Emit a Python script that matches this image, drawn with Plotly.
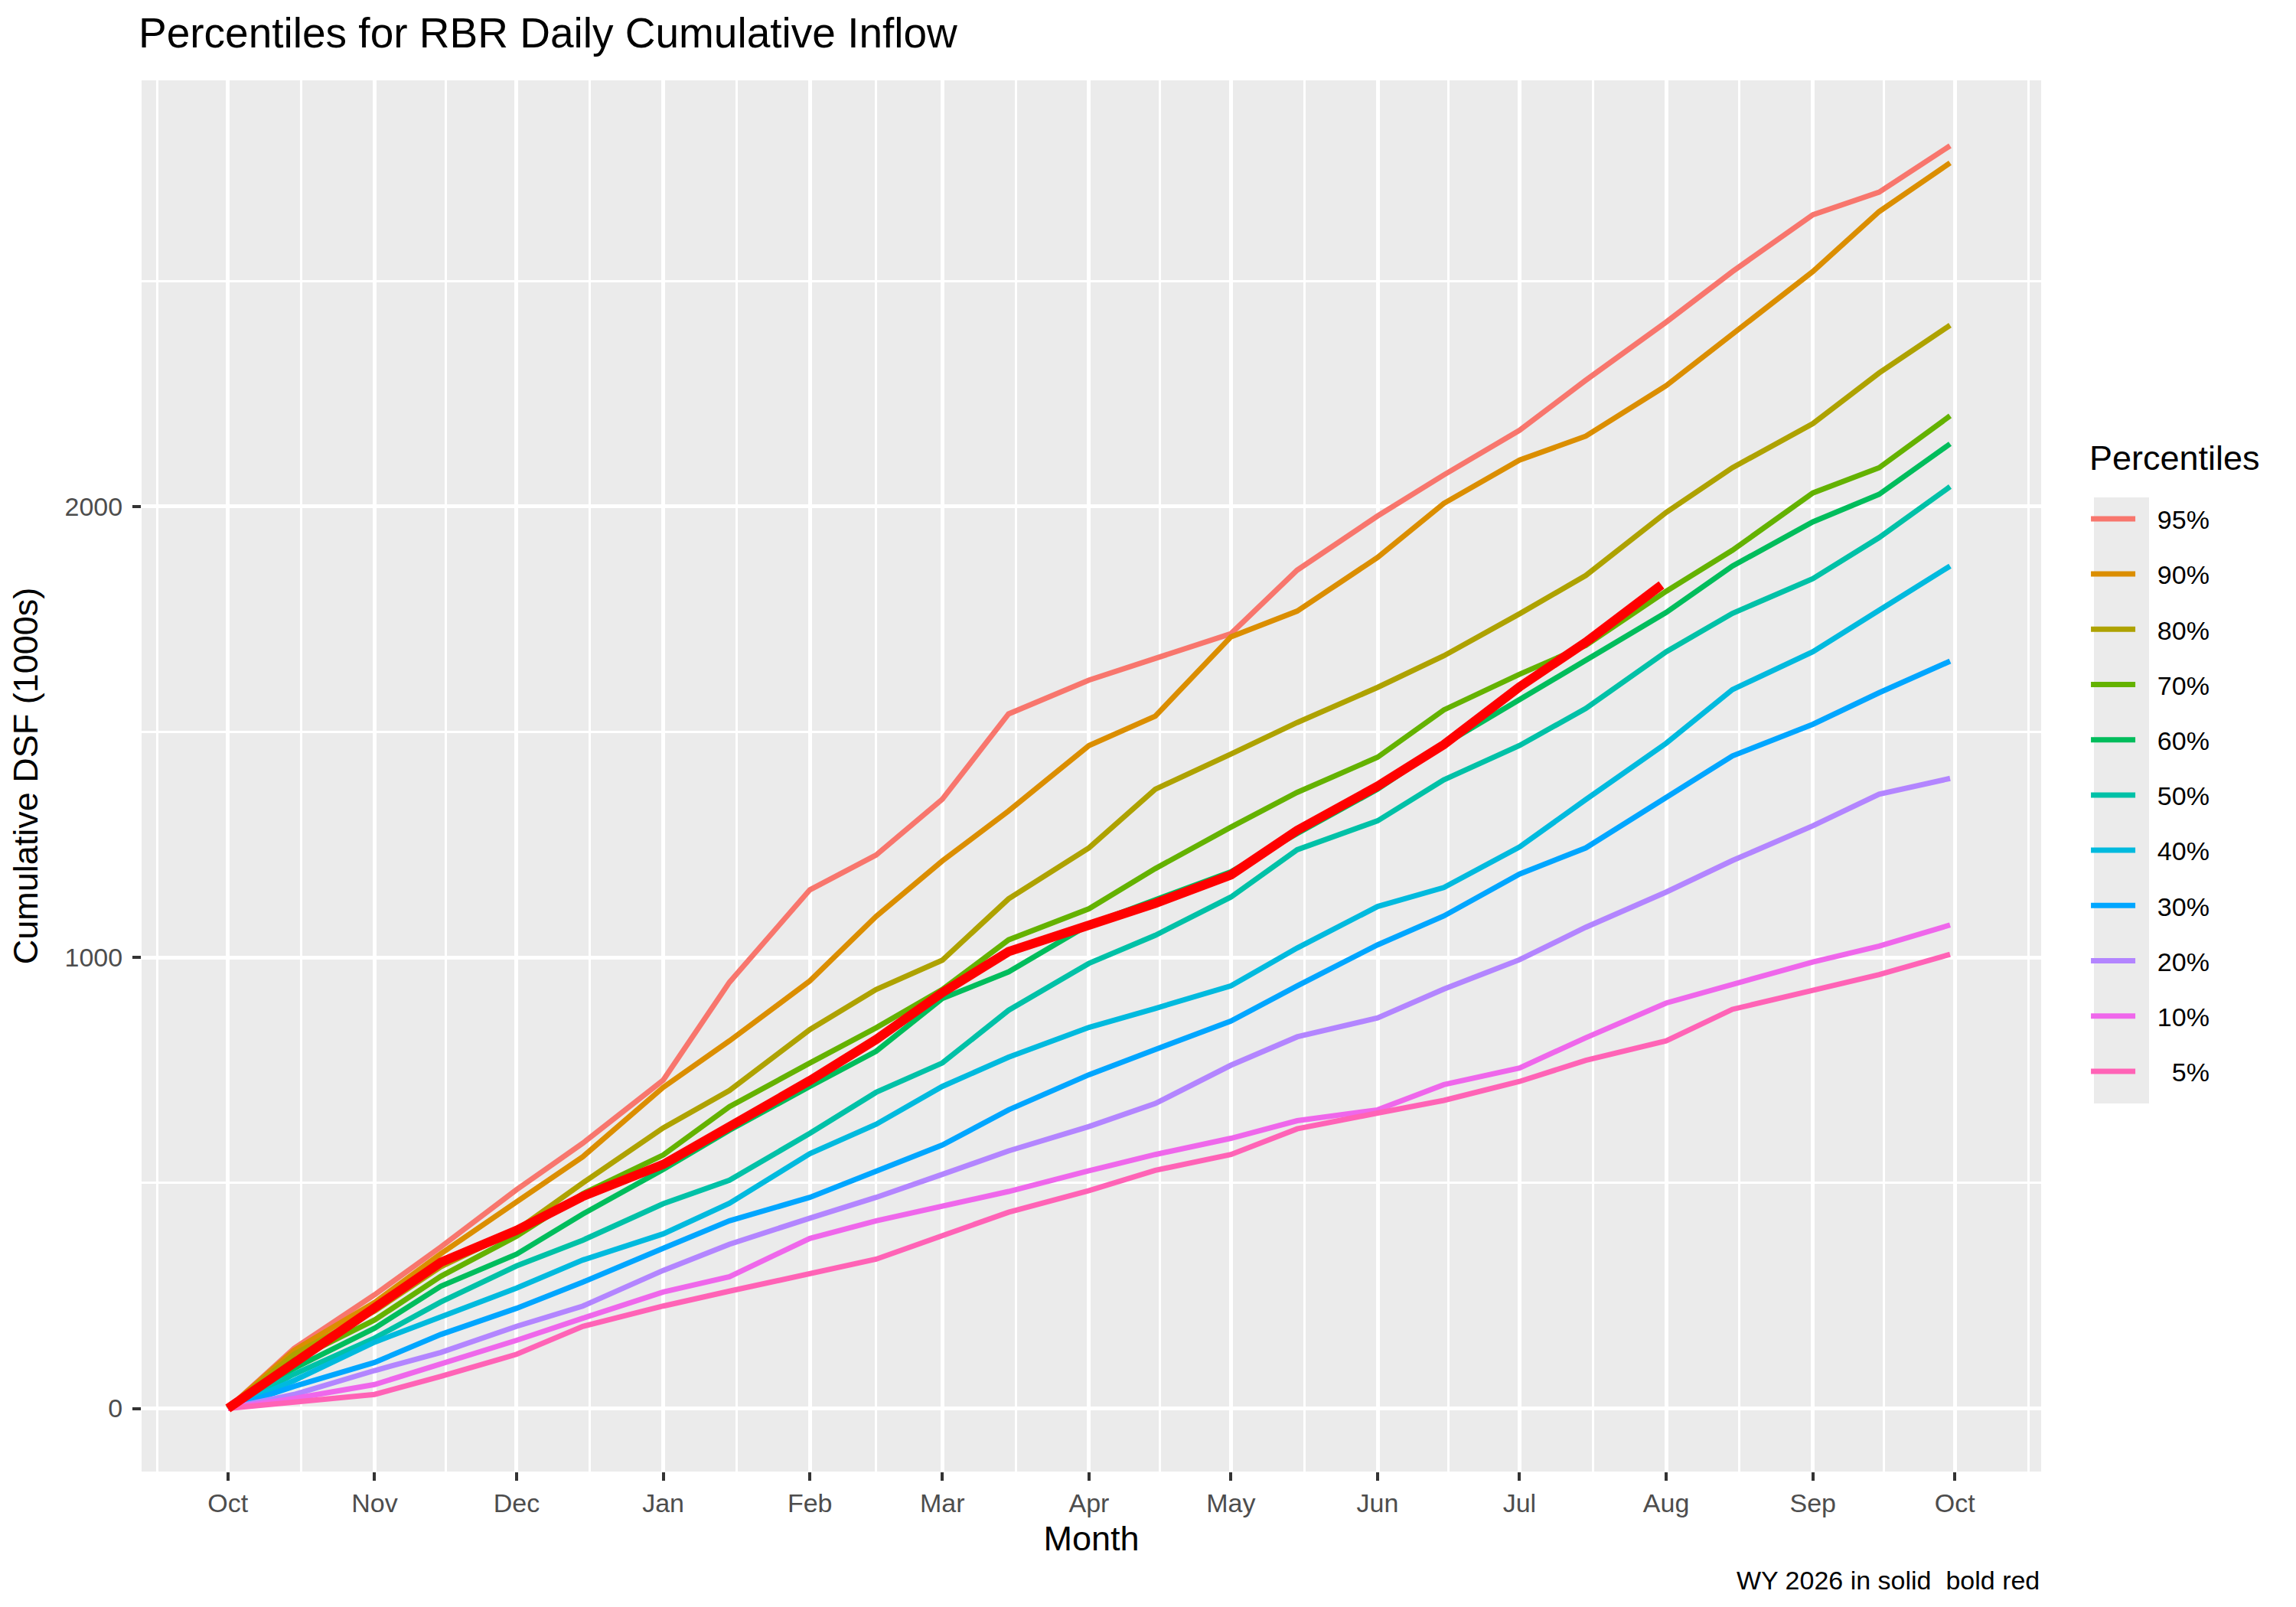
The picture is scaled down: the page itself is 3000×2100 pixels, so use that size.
import pandas as pd
import plotly.graph_objects as go

# semi-monthly readings, WY Oct 1 -> Sep 30
dates = ["2025-10-01", "2025-10-15", "2025-11-01", "2025-11-15", "2025-12-01",
         "2025-12-15", "2026-01-01", "2026-01-15", "2026-02-01", "2026-02-15",
         "2026-03-01", "2026-03-15", "2026-04-01", "2026-04-15", "2026-05-01",
         "2026-05-15", "2026-06-01", "2026-06-15", "2026-07-01", "2026-07-15",
         "2026-08-01", "2026-08-15", "2026-09-01", "2026-09-15", "2026-09-30"]

labels = ["95%", "90%", "80%", "70%", "60%", "50%", "40%", "30%", "20%", "10%", "\u20075%"]
colors = ["#F8766D", "#DB8E00", "#AEA200", "#64B200", "#00BD5C", "#00C1A7",
          "#00BADE", "#00A6FF", "#B385FF", "#EF67EB", "#FF63B6"]

p95 = [0, 133, 252, 358, 485, 588, 728, 945, 1150, 1227, 1351, 1540, 1615, 1662, 1718,
       1859, 1979, 2070, 2169, 2280, 2409, 2521, 2647, 2697, 2800]
p90 = [0, 129, 235, 343, 458, 558, 712, 815, 948, 1091, 1214, 1325, 1470, 1535, 1711,
       1768, 1887, 2007, 2103, 2156, 2268, 2381, 2521, 2654, 2762]
p80 = [0, 120, 216, 314, 395, 500, 622, 705, 840, 929, 994, 1130, 1243, 1373, 1451,
       1521, 1599, 1669, 1762, 1847, 1987, 2086, 2184, 2296, 2402]
p70 = [0, 107, 196, 293, 382, 476, 562, 669, 766, 844, 929, 1039, 1108, 1197, 1289,
       1366, 1444, 1549, 1628, 1692, 1812, 1903, 2030, 2086, 2201]
p60 = [0, 89, 178, 271, 342, 431, 530, 617, 714, 792, 909, 968, 1073, 1127, 1190,
       1275, 1373, 1472, 1571, 1657, 1765, 1868, 1966, 2027, 2139]
p50 = [0, 76, 156, 236, 316, 373, 454, 506, 610, 701, 766, 883, 987, 1049, 1134,
       1239, 1303, 1394, 1470, 1552, 1678, 1763, 1840, 1931, 2044]
p40 = [0, 62, 147, 204, 267, 329, 387, 455, 565, 630, 714, 779, 845, 887, 937,
       1021, 1113, 1155, 1245, 1350, 1475, 1594, 1678, 1770, 1868]
p30 = [0, 49, 102, 164, 222, 280, 355, 416, 468, 526, 584, 662, 740, 796, 859,
       937, 1028, 1092, 1185, 1243, 1355, 1447, 1517, 1587, 1657]
p20 = [0, 31, 84, 124, 182, 227, 306, 364, 422, 468, 519, 571, 625, 676, 761,
       824, 866, 930, 995, 1067, 1145, 1215, 1292, 1362, 1397]
p10 = [0, 22, 53, 98, 151, 200, 258, 292, 377, 416, 448, 481, 527, 563, 599,
       638, 662, 718, 755, 822, 899, 941, 990, 1025, 1072]
p05 = [0, 15, 31, 71, 120, 182, 227, 260, 299, 331, 383, 435, 483, 528, 563,
       620, 655, 683, 725, 772, 815, 885, 927, 962, 1007]

# current water year (to date)
wy_dates = dates[:20] + ["2026-07-31"]
wy2026 = [0, 102, 227, 324, 395, 470, 541, 623, 727, 818, 922, 1013, 1074, 1120, 1183,
          1282, 1380, 1472, 1600, 1699, 1826]

series = [p95, p90, p80, p70, p60, p50, p40, p30, p20, p10, p05]

FONT = "Liberation Sans, Arial, sans-serif"
KEY_GAP = "\u2002\u2009"  # room between legend key and its label

fig = go.Figure()
for lab, col, vals in zip(labels, colors, series):
    fig.add_trace(go.Scatter(x=dates, y=vals, mode="lines", name=KEY_GAP + lab,
                             legendgroup=lab, line=dict(color=col, width=7)))

fig.add_trace(go.Scatter(x=wy_dates, y=wy2026, mode="lines", name="WY 2026",
                         showlegend=False, line=dict(color="#FF0000", width=12)))

# month breaks, with ggplot-style minor breaks halfway between
months = pd.date_range("2025-09-01", "2026-11-01", freq="MS")
majors = [m for m in months if pd.Timestamp("2025-10-01") <= m <= pd.Timestamp("2026-10-01")]
minors = [months[i] + (months[i + 1] - months[i]) / 2 for i in range(len(months) - 1)]

x0 = pd.Timestamp("2025-10-01")
x1 = pd.Timestamp("2026-10-01")
pad = (x1 - x0) * 0.05

fig.update_xaxes(
    type="date", range=[x0 - pad, x1 + pad],
    tickvals=majors, ticktext=[m.strftime("%b") for m in majors],
    showgrid=True, gridcolor="white", gridwidth=4.5,
    minor=dict(tickvals=minors, showgrid=True, gridcolor="white", gridwidth=2.5, ticks=""),
    ticks="outside", ticklen=11, tickwidth=4, tickcolor="#333333",
    tickfont=dict(size=34, color="#4D4D4D", family=FONT),
    title=dict(text="Month", font=dict(size=45, color="black", family=FONT), standoff=12),
    zeroline=False, showline=False,
)
fig.update_yaxes(
    range=[-140, 2945],
    tickvals=[0, 1000, 2000],
    showgrid=True, gridcolor="white", gridwidth=4.5,
    minor=dict(tickvals=[500, 1500, 2500], showgrid=True, gridcolor="white", gridwidth=2.5, ticks=""),
    ticks="outside", ticklen=11, tickwidth=4, tickcolor="#333333",
    tickfont=dict(size=34, color="#4D4D4D", family=FONT),
    ticklabelstandoff=6,
    title=dict(text="Cumulative DSF (1000s)", font=dict(size=45, color="black", family=FONT), standoff=24),
    zeroline=False, showline=False,
)

fig.update_layout(
    width=3000, height=2100,
    margin=dict(l=177, r=341, t=97, b=185),
    paper_bgcolor="white", plot_bgcolor="#EBEBEB",
    title=dict(text="Percentiles for RBR Daily Cumulative Inflow",
               x=173 / 3000, xanchor="left", y=1 - 35 / 2100, yanchor="middle",
               font=dict(size=55, color="black", family=FONT)),
    legend=dict(
        font=dict(size=34, color="black", family=FONT),
        x=1.0242, xanchor="left", y=0.7006, yanchor="top",
        tracegroupgap=25, itemwidth=58, bgcolor="rgba(0,0,0,0)",
    ),
    annotations=[
        dict(text="Percentiles", xref="paper", yref="paper", x=1.0246, y=0.7284,
             xanchor="left", yanchor="middle", showarrow=False,
             font=dict(size=45, color="black", family=FONT)),
        dict(text="WY 2026 in solid  bold red", xref="paper", yref="paper",
             x=1, y=-0.078, xanchor="right", yanchor="middle", showarrow=False,
             font=dict(size=34, color="black", family=FONT)),
    ],
    shapes=[dict(type="rect", xref="paper", yref="paper", layer="below",
                 x0=1.0278, x1=1.0568, y0=0.2646, y1=0.7002,
                 fillcolor="#EBEBEB", line=dict(width=0))],
)

fig.write_html("out.html")
